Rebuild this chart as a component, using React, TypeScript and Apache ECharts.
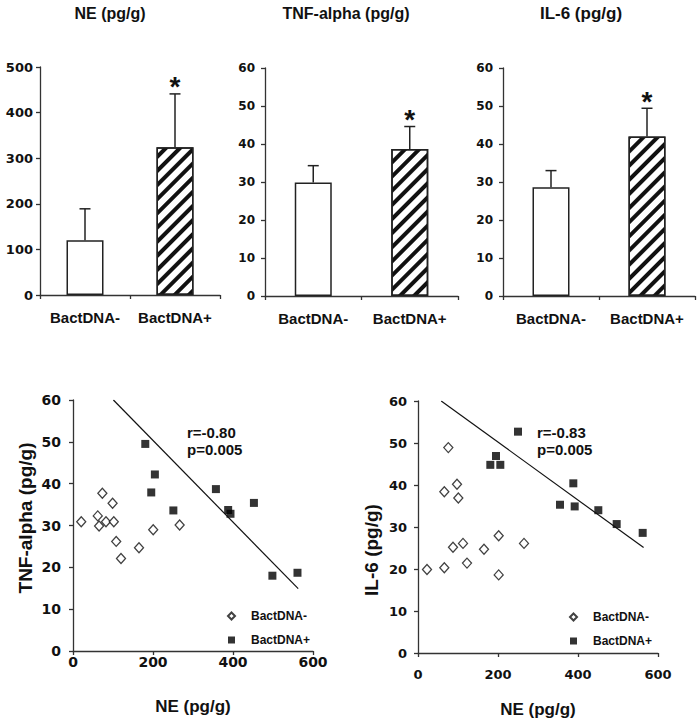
import React, { useEffect, useRef } from 'react';
import * as echarts from 'echarts';

// ---------- data ----------
const groups = ['BactDNA-', 'BactDNA+'];
const neMean = [120, 324];
const neErr = [69, 117];
const tnfMean = [29.9, 38.7];
const tnfErr = [4.4, 5.9];
const il6Mean = [28.6, 42.0];
const il6Err = [4.4, 7.4];
const significant = [0, 1];

const barTitles = ['NE (pg/g)', 'TNF-alpha (pg/g)', 'IL-6 (pg/g)'];

const tnfNeg = [
  [20.6, 30.9], [61.9, 32.3], [65.2, 29.9], [73.4, 37.7], [82.5, 30.9], [99, 35.3],
  [102, 30.9], [108, 26.2], [120, 22.1], [165, 24.7], [200.5, 29.0], [266.6, 30.1],
];
const tnfPos = [
  [180.7, 49.5], [195.6, 37.9], [204.7, 42.2], [250.9, 33.6], [357.3, 38.7],
  [387.9, 33.7], [393.7, 32.8], [452.3, 35.4], [498.5, 18.0], [561.2, 18.7],
];
const il6Neg = [
  [22.5, 19.9], [65.8, 20.3], [75.8, 48.9], [65.8, 38.4], [87.5, 25.2], [97.5, 40.2],
  [100.8, 36.9], [112.5, 26.1], [122.5, 21.4], [165, 24.7], [201.7, 27.9], [201.7, 18.6], [265, 26.1],
];
const il6Pos = [
  [180.8, 44.8], [195, 46.9], [205.8, 44.8], [250, 52.7], [355, 35.3],
  [388.3, 40.4], [391.7, 34.9], [450.8, 34.0], [496.7, 30.7], [561.7, 28.6],
];
const tnfFit = [[101, 60], [563, 14.9]];
const il6Fit = [[58, 60], [564, 25.1]];
const tnfStats = ['r=-0.80', 'p=0.005'];
const il6Stats = ['r=-0.83', 'p=0.005'];
const xName = 'NE (pg/g)';
const yNames = ['TNF-alpha (pg/g)', 'IL-6 (pg/g)'];

// ---------- styles ----------
const AR = '"Liberation Sans", Arial, sans-serif';
const DV = '"DejaVu Sans", sans-serif';
const INK = '#111';
const axisLineStyle = { color: '#333', width: 1.3 };

const plainStyle = { color: '#fff', borderColor: '#222', borderWidth: 1.5 };
const hatchStyle = {
  color: '#fff',
  borderColor: '#222',
  borderWidth: 1.5,
  decal: {
    symbol: 'rect',
    symbolSize: 1,
    dashArrayX: [1, 0],
    dashArrayY: [4, 6],
    rotation: -Math.PI / 4,
    color: '#111',
    backgroundColor: '#fff',
  },
};

function catAxis(gi: number) {
  return {
    type: 'category',
    gridIndex: gi,
    data: groups,
    boundaryGap: true,
    axisLine: { show: true, lineStyle: axisLineStyle },
    axisTick: { show: true, length: 4, alignWithLabel: false, interval: 0, lineStyle: axisLineStyle },
    axisLabel: {
      interval: 0,
      hideOverlap: false,
      margin: 15,
      fontFamily: AR,
      fontWeight: 'bold',
      fontSize: 15,
      color: INK,
    },
    splitLine: { show: false },
  };
}

function valAxis(gi: number, max: number, interval: number, fs: number, margin: number) {
  return {
    type: 'value',
    gridIndex: gi,
    min: 0,
    max,
    interval,
    axisLine: { show: true, lineStyle: axisLineStyle },
    axisTick: { show: true, length: 4, lineStyle: axisLineStyle },
    axisLabel: { margin, fontFamily: DV, fontWeight: 'bold', fontSize: fs, color: INK },
    splitLine: { show: false },
  };
}

function neX(gi: number, margin: number, gap: number) {
  return {
    ...valAxis(gi, 600, 200, gi === 3 ? 14 : 13, margin),
    name: xName,
    nameLocation: 'middle',
    nameGap: gap,
    nameTextStyle: { fontFamily: AR, fontWeight: 'bold', fontSize: 17, color: INK },
  };
}

function barSeries(i: number, means: number[]) {
  return {
    type: 'bar',
    xAxisIndex: i,
    yAxisIndex: i,
    barWidth: 37,
    data: means.map((v, k) => ({ value: v, itemStyle: k === 1 ? hatchStyle : plainStyle })),
  };
}

function errRender(params: any, api: any) {
  const idx = api.value(0);
  const m = api.value(1);
  const e = api.value(2);
  const base = api.coord([idx, m]);
  const top = api.coord([idx, m + e]);
  const st = { stroke: '#222', lineWidth: 1.5 };
  const children: any[] = [
    { type: 'line', shape: { x1: base[0], y1: base[1], x2: top[0], y2: top[1] }, style: st },
    { type: 'line', shape: { x1: top[0] - 5.5, y1: top[1], x2: top[0] + 5.5, y2: top[1] }, style: st },
  ];
  if (api.value(3)) {
    children.push({
      type: 'text',
      x: top[0],
      y: top[1] - 7,
      style: {
        text: '*',
        font: `bold 28px ${AR}`,
        fill: INK,
        align: 'center',
        textAlign: 'center',
        verticalAlign: 'middle',
        textVerticalAlign: 'middle',
      },
    });
  }
  return { type: 'group', children };
}

function errSeries(i: number, means: number[], errs: number[]) {
  return {
    type: 'custom',
    xAxisIndex: i,
    yAxisIndex: i,
    z: 5,
    data: means.map((m, k) => [k, m, errs[k], significant[k]]),
    renderItem: errRender,
  };
}

function scatterPair(i: number, neg: number[][], pos: number[][], fit: number[][]) {
  return [
    {
      type: 'scatter',
      name: groups[0],
      xAxisIndex: i,
      yAxisIndex: i,
      data: neg,
      symbol: 'diamond',
      symbolSize: [9, 10],
      itemStyle: { color: '#fff', borderColor: '#111', borderWidth: 1.3 },
    },
    {
      type: 'scatter',
      name: groups[1],
      xAxisIndex: i,
      yAxisIndex: i,
      data: pos,
      symbol: 'rect',
      symbolSize: 8,
      itemStyle: { color: '#000' },
    },
    {
      type: 'line',
      xAxisIndex: i,
      yAxisIndex: i,
      data: fit,
      showSymbol: false,
      symbol: 'none',
      silent: true,
      lineStyle: { color: '#111', width: 1.2 },
    },
  ];
}

function txt(x: number, y: number, text: string, font: string, align = 'center', rotation = 0) {
  return {
    type: 'text',
    x,
    y,
    rotation,
    style: {
      text,
      font,
      fill: INK,
      align,
      textAlign: align,
      verticalAlign: 'middle',
      textVerticalAlign: 'middle',
    },
  };
}

function legendAt(left: number, top: number) {
  return {
    data: groups,
    orient: 'vertical',
    left,
    top,
    itemWidth: 7,
    itemHeight: 7,
    itemGap: 12,
    selectedMode: false,
    textStyle: { fontFamily: AR, fontWeight: 'bold', fontSize: 12, color: INK, padding: [0, 0, 0, 11] },
  };
}

export default function App() {
  const ref = useRef<HTMLDivElement>(null);
  useEffect(() => {
    if (!ref.current) return;
    const chart = echarts.init(ref.current, undefined, { renderer: 'svg' });
    const option: any = {
      animation: false,
      backgroundColor: '#fff',
      grid: [
        { left: 40, top: 67, width: 180, height: 228 },
        { left: 265, top: 68, width: 193, height: 228 },
        { left: 503, top: 68, width: 192, height: 228 },
        { left: 73, top: 400, width: 240, height: 251 },
        { left: 418, top: 401, width: 240, height: 252 },
      ],
      xAxis: [catAxis(0), catAxis(1), catAxis(2), neX(3, 4, 47), neX(4, 15, 48)],
      yAxis: [
        valAxis(0, 500, 100, 13, 7),
        valAxis(1, 60, 10, 12, 10),
        valAxis(2, 60, 10, 12, 10),
        valAxis(3, 60, 10, 14, 12),
        valAxis(4, 60, 10, 13, 11),
      ],
      legend: [legendAt(222, 605), legendAt(564, 606)],
      series: [
        barSeries(0, neMean),
        barSeries(1, tnfMean),
        barSeries(2, il6Mean),
        errSeries(0, neMean, neErr),
        errSeries(1, tnfMean, tnfErr),
        errSeries(2, il6Mean, il6Err),
        ...scatterPair(3, tnfNeg, tnfPos, tnfFit),
        ...scatterPair(4, il6Neg, il6Pos, il6Fit),
      ],
      graphic: [
        txt(110, 13, barTitles[0], `bold 16px ${AR}`),
        txt(346, 13, barTitles[1], `bold 16px ${AR}`),
        txt(581, 13, barTitles[2], `bold 17px ${AR}`),
        txt(25, 518, yNames[0], `bold 19px ${AR}`, 'center', Math.PI / 2),
        txt(371, 550, yNames[1], `bold 19px ${AR}`, 'center', Math.PI / 2),
        txt(187, 432, tnfStats[0], `bold 15px ${AR}`, 'left'),
        txt(187, 449, tnfStats[1], `bold 15px ${AR}`, 'left'),
        txt(537, 432, il6Stats[0], `bold 15px ${AR}`, 'left'),
        txt(537, 449, il6Stats[1], `bold 15px ${AR}`, 'left'),
      ],
    };
    chart.setOption(option);
    return () => chart.dispose();
  }, []);
  return (
    <div
      ref={ref}
      style={{ position: 'absolute', left: 0, top: 0, width: 699, height: 720, background: '#fff' }}
    />
  );
}
